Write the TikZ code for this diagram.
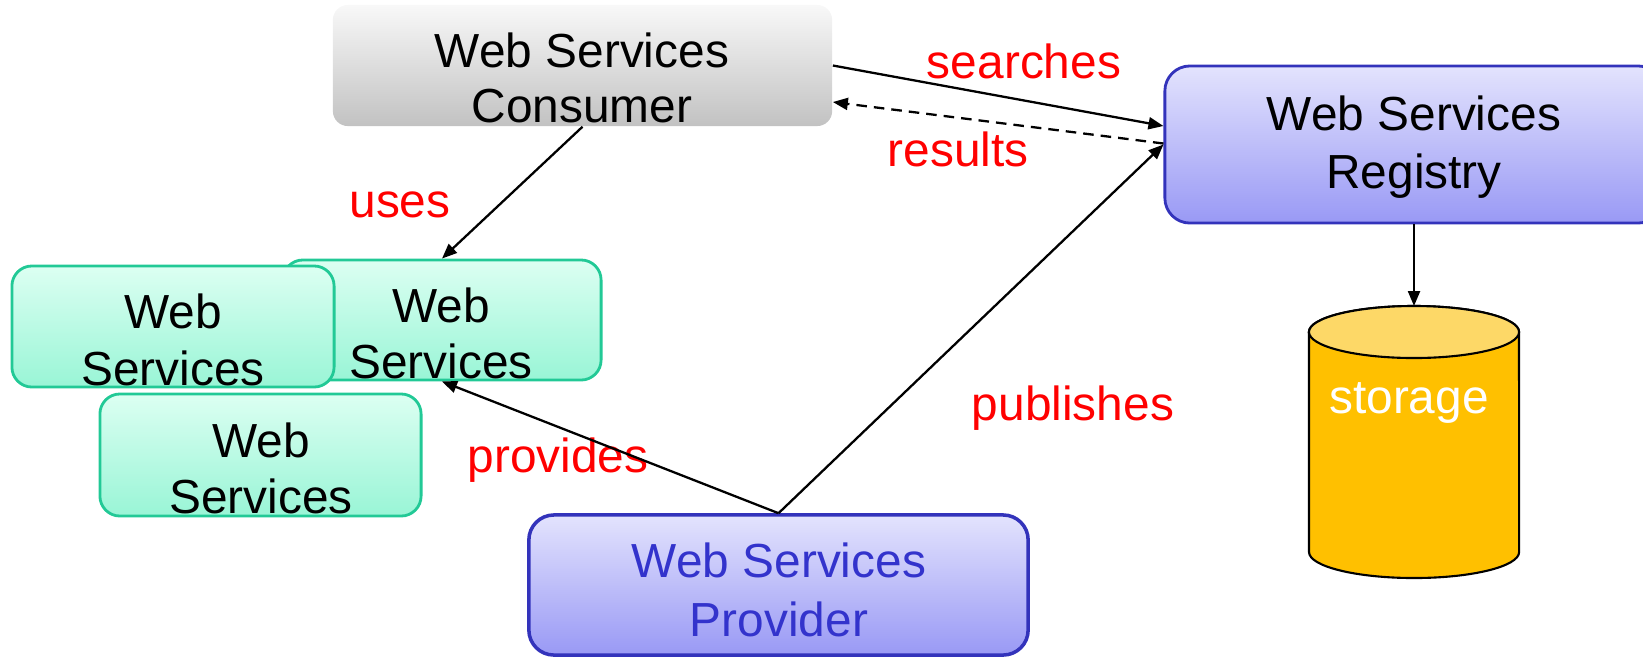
\documentclass[tikz,border=0pt]{standalone}
\usepackage{fontspec}
\setmainfont{Liberation Sans}
\usetikzlibrary{arrows.meta}

\definecolor{consTop}{HTML}{F8F8F8}
\definecolor{consBot}{HTML}{C2C2C2}
\definecolor{lavTop}{HTML}{E3E3FD}
\definecolor{lavBot}{HTML}{9999F5}
\definecolor{lavEdge}{HTML}{3333BB}
\definecolor{provText}{HTML}{3333CC}
\definecolor{tealTop}{HTML}{DCFFF2}
\definecolor{tealBot}{HTML}{99F5D6}
\definecolor{tealEdge}{HTML}{22C996}
\definecolor{cylBody}{HTML}{FFC000}
\definecolor{cylTop}{HTML}{FDD867}
\definecolor{lblRed}{HTML}{FF0000}

\begin{document}
\begin{tikzpicture}[x=0.01cm, y=-0.01cm,
  font=\fontsize{13.6pt}{15.8pt}\selectfont,
  boxbase/.style={rectangle, inner sep=0pt},
  consbox/.style={boxbase, rounded corners=0.15cm, top color=consTop, bottom color=consBot},
  lavbox/.style={boxbase, rounded corners=0.25cm, draw=lavEdge, line width=0.8pt,
                 top color=lavTop, bottom color=lavBot},
  wsbox/.style={boxbase, rounded corners=0.2cm, draw=tealEdge, line width=0.8pt,
                top color=tealTop, bottom color=tealBot,
                minimum width=3.2cm, minimum height=1.21cm},
  txt/.style={anchor=base, inner sep=0pt},
  lbl/.style={txt, text=lblRed},
  conn/.style={line width=0.65pt, -{Triangle[length=0.15cm,width=0.12cm]}},
]
\useasboundingbox (0,0) rectangle (1643,657);
\clip (0,0) rectangle (1643,657);

% consumer
\node[consbox, minimum width=4.99cm, minimum height=1.21cm] (cons) at (582.5,65.5) {};
\node[txt] (consA) at (582,67) {Web Services};
\node[txt] (consB) at (582,122) {Consumer};

% registry
\node[lavbox, minimum width=4.98cm, minimum height=1.57cm] (reg) at (1414,144.5) {};
\node[txt] (regA) at (1414,130) {Web Services};
\node[txt] (regB) at (1414,188) {Registry};

% stacked web services
\node[wsbox, minimum width=3.18cm, minimum height=1.20cm] (wsA) at (442,320) {};
\node[txt] (wsAa) at (441,322) {Web};
\node[txt] (wsAb) at (441,378) {Services};

\node[wsbox, minimum width=3.22cm] (wsB) at (173,326.5) {};
\node[txt] (wsBa) at (173,328) {Web};
\node[txt] (wsBb) at (173,385) {Services};

\node[wsbox, minimum width=3.21cm, minimum height=1.22cm] (wsC) at (260.5,455) {};
\node[txt] (wsCa) at (261,457) {Web};
\node[txt] (wsCb) at (261,513) {Services};

% provider
\node[lavbox, line width=1pt, minimum width=4.99cm, minimum height=1.40cm] (prov) at (778.5,585) {};
\node[txt, text=provText] (provA) at (779,577) {Web Services};
\node[txt, text=provText] (provB) at (779,636) {Provider};

% storage cylinder
\filldraw[fill=cylBody, draw=black, line width=0.6pt]
  (1309,332) -- (1309,552)
  arc[start angle=180, end angle=360, x radius=1.05cm, y radius=0.26cm]
  -- (1519,332)
  arc[start angle=0, end angle=180, x radius=1.05cm, y radius=0.26cm] -- cycle;
\filldraw[fill=cylTop, draw=black, line width=0.6pt]
  (1414,332) ellipse[x radius=1.05cm, y radius=0.26cm];
\coordinate (storTop) at (1414,306);
\node[txt, text=white] (stor) at (1409,413) {storage};

% connector labels
\node[lbl] (lSearch) at (1024,78) {searches};
\node[lbl] (lResult) at (958,166) {results};
\node[lbl] (lUses) at (400,217) {uses};
\node[lbl] (lProv) at (558,472) {provides};
\node[lbl] (lPub) at (1073,420) {publishes};

% connectors
\draw[conn] (cons.south) -- (wsA.north);
\draw[conn] (cons.east) -- ([yshift=0.185cm]reg.west);
\draw[conn, dash pattern=on 3pt off 2pt] ([yshift=0.01cm]reg.west) -- ([yshift=-0.365cm]cons.east);
\draw[conn] (prov.north) -- (reg.west);
\draw[conn] (prov.north) -- (wsA.south);
\draw[conn] (reg.south) -- (storTop);
\end{tikzpicture}
\end{document}
